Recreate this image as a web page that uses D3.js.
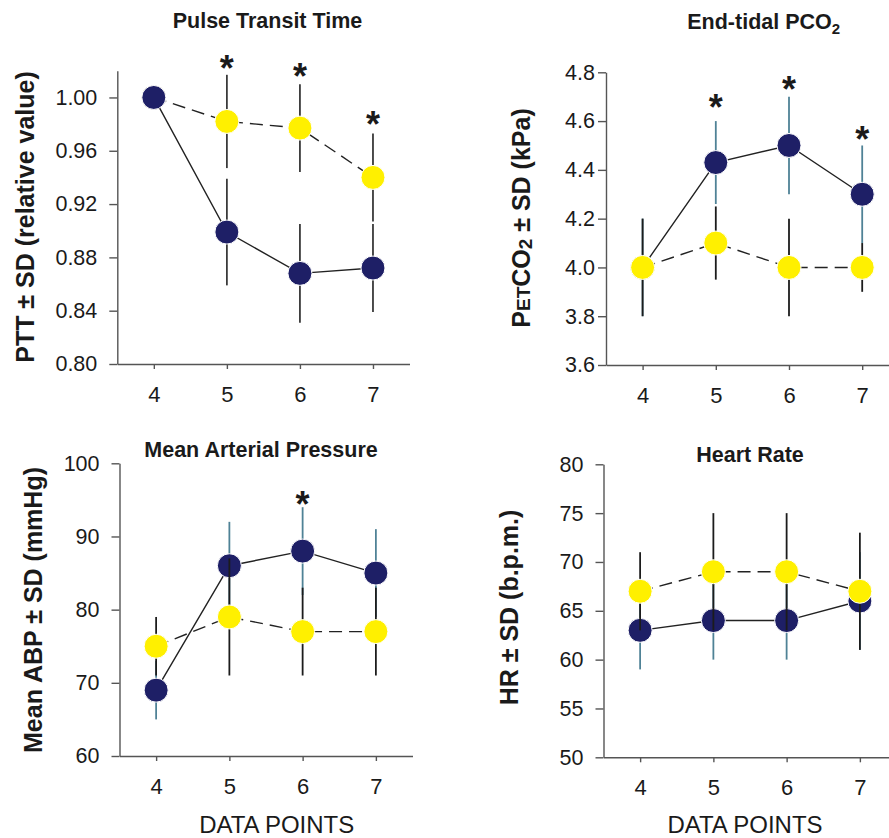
<!DOCTYPE html>
<html><head><meta charset="utf-8">
<script src="https://cdn.jsdelivr.net/npm/d3@7"></script>
<style>
body{margin:0;background:#fff}
svg{display:block}
text{font-family:"Liberation Sans",Arial,Helvetica,sans-serif;fill:#1a1a1a}
</style>
</head><body>
<svg id="chart" width="889" height="838"></svg>
<script>
// ---------- DATA ----------
const dataPoints = [4, 5, 6, 7];
const xTickLabels = ["4", "5", "6", "7"];

// Pulse Transit Time (relative value)
const pttNavy     = [1.000, 0.899, 0.868, 0.872];
const pttNavySD   = [0, 0.040, 0.037, 0.033];
const pttYellow   = [1.000, 0.982, 0.977, 0.940];
const pttYellowSD = [0, 0.035, 0.033, 0.033];
const pttStars    = [null, 1.027, 1.021, 0.985];
const pttTicks    = [0.80, 0.84, 0.88, 0.92, 0.96, 1.00];

// End-tidal PCO2 (kPa)
const co2Navy     = [4.00, 4.43, 4.50, 4.30];
const co2NavySD   = [0.20, 0.17, 0.20, 0.20];
const co2Yellow   = [4.00, 4.10, 4.00, 4.00];
const co2YellowSD = [0.20, 0.15, 0.20, 0.10];
const co2Stars    = [null, 4.686, 4.761, 4.556];
const co2Ticks    = [3.6, 3.8, 4.0, 4.2, 4.4, 4.6, 4.8];

// Mean Arterial Pressure (mmHg)
const mapNavy     = [69, 86, 88, 85];
const mapNavySD   = [4, 6, 6, 6];
const mapYellow   = [75, 79, 77, 77];
const mapYellowSD = [4, 8, 6, 6];
const mapStars    = [null, null, 95.4, null];
const mapTicks    = [60, 70, 80, 90, 100];

// Heart Rate (b.p.m.)
const hrNavy      = [63, 64, 64, 66];
const hrNavySD    = [4, 4, 4, 5];
const hrYellow    = [67, 69, 69, 67];
const hrYellowSD  = [4, 6, 6, 6];
const hrStars     = [null, null, null, null];
const hrTicks     = [50, 55, 60, 65, 70, 75, 80];

// ---------- STYLE / LAYOUT ----------
const NAVY = "#1e1f66", YELLOW = "#fff000", TEAL = "#4f8296", BARDARK = "#1c1c1c", BARGRAY = "#3a3a3a";

const panels = [
  { navy: pttNavy, navySD: pttNavySD, yellow: pttYellow, yellowSD: pttYellowSD, stars: pttStars, ticks: pttTicks,
    yDomain: [0.80, 1.02], xRange: [117.3, 409.5], yRange: [364, 70.8], tickPad: 12, fmt: d3.format(".2f"),
    navyBar: BARGRAY, yellowBar: BARGRAY, navyOnTop: true },
  { navy: co2Navy, navySD: co2NavySD, yellow: co2Yellow, yellowSD: co2YellowSD, stars: co2Stars, ticks: co2Ticks,
    yDomain: [3.6, 4.8], xRange: [606, 898.8], yRange: [365, 72.3], tickPad: 3, fmt: d3.format(".1f"),
    navyBar: TEAL, yellowBar: BARDARK, navyOnTop: false },
  { navy: mapNavy, navySD: mapNavySD, yellow: mapYellow, yellowSD: mapYellowSD, stars: mapStars, ticks: mapTicks,
    yDomain: [60, 100], xRange: [119.5, 412.5], yRange: [756, 463.3], tickPad: 12, fmt: d3.format("d"),
    navyBar: TEAL, yellowBar: BARDARK, navyOnTop: false },
  { navy: hrNavy, navySD: hrNavySD, yellow: hrYellow, yellowSD: hrYellowSD, stars: hrStars, ticks: hrTicks,
    yDomain: [50, 80], xRange: [603.5, 896.5], yRange: [757.3, 464.3], tickPad: 12, fmt: d3.format("d"),
    navyBar: TEAL, yellowBar: BARDARK, navyOnTop: false }
];

const svg = d3.select("#chart");

panels.forEach(p => {
  const g = svg.append("g");
  const x = d3.scaleLinear().domain([3.5, 7.5]).range(p.xRange);
  const y = d3.scaleLinear().domain(p.yDomain).range(p.yRange);

  // axes
  const xa = g.append("g").attr("transform", `translate(0,${p.yRange[0]})`)
    .call(d3.axisBottom(x).tickValues(dataPoints).tickFormat((d, i) => xTickLabels[i]).tickSize(5).tickSizeOuter(0));
  xa.selectAll("text").attr("y", 37.5).attr("dy", null).style("font-size", "22px");

  const ya = g.append("g").attr("transform", `translate(${p.xRange[0]},0)`)
    .call(d3.axisLeft(y).tickValues(p.ticks).tickFormat(p.fmt).tickSize(8).tickSizeOuter(0).tickPadding(p.tickPad));
  ya.selectAll("text").style("font-size", "21.5px");

  [xa, ya].forEach(a => {
    a.select(".domain").attr("stroke", "#555").attr("stroke-width", 1.4);
    a.selectAll(".tick line").attr("stroke", "#555").attr("stroke-width", 1.4);
    a.selectAll("text").attr("fill", "#1a1a1a");
  });

  const line = d3.line().x((d, i) => x(dataPoints[i])).y(d => y(d));

  function drawSeries(vals, sds, fill, barColor, dashed) {
    const s = g.append("g");
    vals.forEach((v, i) => {
      if (sds[i] > 0) {
        s.append("line").attr("x1", x(dataPoints[i])).attr("x2", x(dataPoints[i]))
          .attr("y1", y(v - sds[i])).attr("y2", y(v + sds[i]))
          .attr("stroke", barColor).attr("stroke-width", 1.8);
      }
    });
    s.append("path").datum(vals).attr("d", line).attr("fill", "none")
      .attr("stroke", "#222").attr("stroke-width", 1.4)
      .attr("stroke-dasharray", dashed ? "13,7" : null);
    s.selectAll("circle").data(vals).enter().append("circle")
      .attr("cx", (d, i) => x(dataPoints[i])).attr("cy", d => y(d)).attr("r", 12)
      .attr("fill", fill).attr("stroke", "#fff").attr("stroke-width", 1);
  }

  if (p.navyOnTop) {
    drawSeries(p.yellow, p.yellowSD, YELLOW, p.yellowBar, true);
    drawSeries(p.navy, p.navySD, NAVY, p.navyBar, false);
  } else {
    drawSeries(p.navy, p.navySD, NAVY, p.navyBar, false);
    drawSeries(p.yellow, p.yellowSD, YELLOW, p.yellowBar, true);
  }

  // significance stars
  p.stars.forEach((s, i) => {
    if (s !== null) {
      g.append("text").attr("x", x(dataPoints[i])).attr("y", y(s) + 20)
        .attr("text-anchor", "middle").style("font-size", "36px").style("font-weight", "bold").text("*");
    }
  });
});

// ---------- TEXT ----------
function title(xc, yb, txt) {
  return svg.append("text").attr("x", xc).attr("y", yb).attr("text-anchor", "middle")
    .style("font-size", "21.5px").style("font-weight", "bold").text(txt);
}
title(267.5, 28, "Pulse Transit Time");
const t2 = title(763.7, 29, "End-tidal PCO");
t2.append("tspan").attr("dy", 5).style("font-size", "15px").text("2");
title(261, 457, "Mean Arterial Pressure");
title(750, 461.7, "Heart Rate");

function ylabel(bx, cy) {
  return svg.append("text").attr("transform", `translate(${bx},${cy}) rotate(-90)`)
    .attr("text-anchor", "middle").style("font-size", "25px").style("font-weight", "bold");
}
ylabel(33.5, 217).text("PTT ± SD (relative value)");
const yl2 = ylabel(530, 218);
yl2.append("tspan").text("P");
yl2.append("tspan").style("font-size", "19px").text("ET");
yl2.append("tspan").text("CO");
yl2.append("tspan").style("font-size", "19px").attr("dy", 2).text("2");
yl2.append("tspan").attr("dy", -2).text(" ± SD (kPa)");
ylabel(41.7, 610).text("Mean ABP ± SD (mmHg)");
ylabel(518.3, 607.5).text("HR ± SD (b.p.m.)");

svg.append("text").attr("x", 276.7).attr("y", 833).attr("text-anchor", "middle").style("font-size", "24px").text("DATA POINTS");
svg.append("text").attr("x", 745).attr("y", 833).attr("text-anchor", "middle").style("font-size", "24px").text("DATA POINTS");
</script>
</body></html>
